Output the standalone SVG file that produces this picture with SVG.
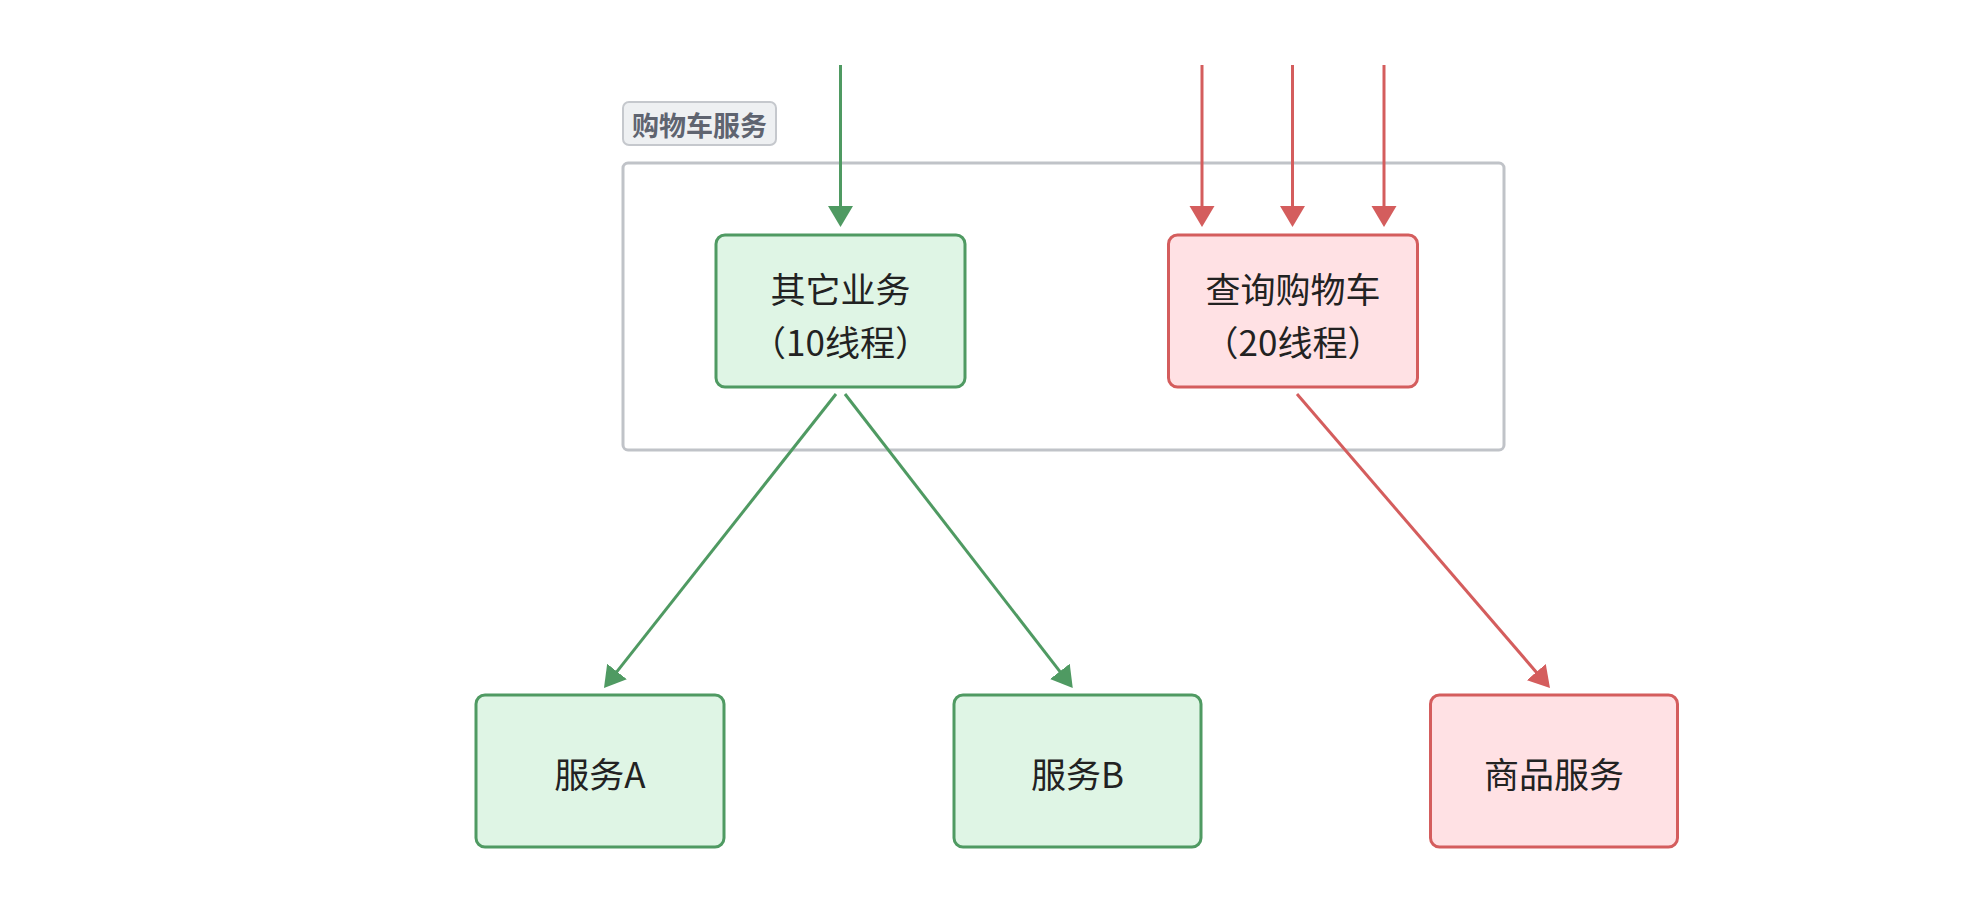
<svg xmlns="http://www.w3.org/2000/svg" width="1976" height="909" viewBox="0 0 1976 909">
<style>
.g rect{fill:#dff5e5;stroke:#4f9a62;stroke-width:3}
.r rect{fill:#ffe1e4;stroke:#d45d5d;stroke-width:3}
.t{font-family:"Noto Sans CJK SC","Noto Sans",sans-serif;font-size:35px;fill:#222;text-anchor:middle;dominant-baseline:central}
.gl{stroke:#4f9a62;stroke-width:3;fill:none;marker-end:url(#ag)}
.rl{stroke:#d45d5d;stroke-width:3;fill:none;marker-end:url(#ar)}
</style>
<defs>
<marker id="ag" markerUnits="userSpaceOnUse" markerWidth="22" markerHeight="26" refX="10" refY="12.5" orient="auto"><path d="M0,0 L21,12.5 L0,25 z" fill="#4f9a62"/></marker>
<marker id="ar" markerUnits="userSpaceOnUse" markerWidth="22" markerHeight="26" refX="10" refY="12.5" orient="auto"><path d="M0,0 L21,12.5 L0,25 z" fill="#d45d5d"/></marker>
</defs>
<rect width="1976" height="909" fill="#fff"/>
<g id="cluster">
<rect x="623" y="163" width="881" height="287" rx="5" fill="none" stroke="#c0c3c8" stroke-width="3"/>
<rect x="623" y="102" width="153" height="43" rx="6" fill="#eef0f2" stroke="#c5c8cd" stroke-width="2"/>
<text x="699.5" y="124" font-family="'Noto Sans CJK SC','Noto Sans',sans-serif" font-size="27" font-weight="bold" fill="#5f6470" text-anchor="middle" dominant-baseline="central">购物车服务</text>
</g>
<g id="connectors">
<line class="gl" x1="840.5" y1="65" x2="840.5" y2="216"/>
<line class="rl" x1="1202" y1="65" x2="1202" y2="216"/>
<line class="rl" x1="1292.5" y1="65" x2="1292.5" y2="216"/>
<line class="rl" x1="1384" y1="65" x2="1384" y2="216"/>
<line class="gl" x1="836" y1="394" x2="610.8" y2="679.4"/>
<line class="gl" x1="845" y1="394" x2="1066" y2="679.3"/>
<line class="rl" x1="1297" y1="394" x2="1542.8" y2="679.7"/>
</g>
<g id="other" class="g">
<rect x="716" y="235" width="249" height="152" rx="9"/>
<text class="t" x="840.5" y="287">其它业务</text>
<text class="t" x="840.5" y="340">（10线程）</text>
</g>
<g id="query" class="r">
<rect x="1168.5" y="235" width="249" height="152" rx="9"/>
<text class="t" x="1293" y="287">查询购物车</text>
<text class="t" x="1293" y="340">（20线程）</text>
</g>
<g id="serviceA" class="g">
<rect x="476" y="695" width="248" height="152" rx="9"/>
<text class="t" x="600" y="772">服务A</text>
</g>
<g id="serviceB" class="g">
<rect x="954" y="695" width="247" height="152" rx="9"/>
<text class="t" x="1077.5" y="772">服务B</text>
</g>
<g id="product" class="r">
<rect x="1430.5" y="695" width="247" height="152" rx="9"/>
<text class="t" x="1554" y="772">商品服务</text>
</g>
</svg>
